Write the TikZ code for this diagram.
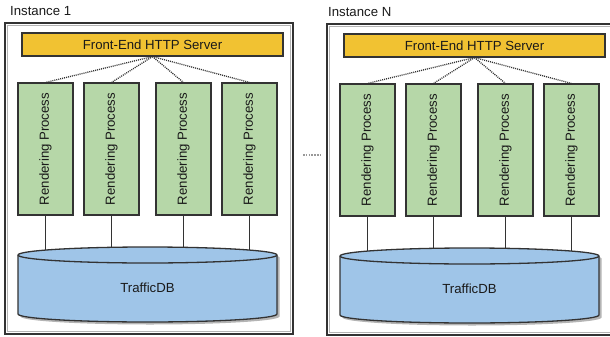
\documentclass[tikz,border=0pt]{standalone}
\usepackage{fontspec}
\setmainfont{Liberation Sans}
\definecolor{srvfill}{HTML}{F1C232}
\definecolor{rpfill}{HTML}{B6D7A8}
\definecolor{dbfill}{HTML}{9FC5E8}
\definecolor{edgecol}{HTML}{333333}
\definecolor{shadecol}{HTML}{B4B4B4}
\definecolor{txtcol}{HTML}{1A1A1A}
\begin{document}
\begin{tikzpicture}[x=1pt,y=-1pt,
  font=\fontsize{13.2}{15}\selectfont,
  every node/.style={text=txtcol, inner sep=0pt},
  outerbox/.style={draw=edgecol, line width=1.6pt, minimum width=288pt, minimum height=311pt},
  innerline/.style={draw=shadecol, line width=1.4pt},
  boxbase/.style={draw=edgecol, line width=1.1pt},
  server/.style={boxbase, fill=srvfill, minimum width=261pt, minimum height=23pt},
  render/.style={boxbase, fill=rpfill, minimum width=55pt, minimum height=132pt},
  fanout/.style={draw=edgecol, line width=1.3pt, dash pattern=on 1pt off 1pt},
  dblink/.style={draw=edgecol, line width=1.1pt},
  dbbody/.style={boxbase, fill=dbfill, line width=1.3pt},
  dbshadow/.style={fill=shadecol},
  gapdots/.style={draw=gray!80, line width=1.4pt, dash pattern=on 1.6pt off 1.2pt}
]
\useasboundingbox (0,0) rectangle (610,337);
\clip (0,0) rectangle (610,337);

\foreach \i/\dx/\dy/\lx/\ly/\title in {1/0/0/10/11/Instance 1, N/322/1/328/12/Instance N} {
  % instance heading
  \node[anchor=west] (title\i) at (\lx,\ly) {\title};
  \begin{scope}[shift={(\dx,\dy)}]
    % instance frame with its grey inner rim
    \node[outerbox] (inst\i) at (149,178.5) {};
    \draw[innerline] (7.4,25.4) rectangle (290.6,331.6);
    % front-end server and rendering processes
    \node[server] (srv\i) at (152.5,44.5) {Front-End HTTP Server};
    \foreach \k/\cx in {a/45.5, b/111.5, c/183.5, d/249.5} {
      \node[render] (rp\i\k) at (\cx,149) {\rotatebox{90}{Rendering Process}};
      \draw[fanout] (srv\i.south) -- (rp\i\k.north);
    }
    % database cylinder (y axis points down, so angle 90 is the lower side)
    \coordinate (dbtop\i) at (147.5,255);
    \foreach \k in {a,b,c,d} {
      \draw[dblink] (rp\i\k.south) -- (rp\i\k.south |- dbtop\i);
    }
    \fill[dbshadow] (20.5,257.5) -- (20.5,316.5) arc (180:0:129.5 and 8)
      -- (279.5,257.5) arc (360:180:129.5 and 8) -- cycle;
    \draw[dbbody] (18,255) -- (18,314) arc (180:0:129.5 and 8)
      -- (277,255) arc (360:180:129.5 and 8) -- cycle;
    \draw[boxbase, line width=1.3pt] (18,255) arc (180:0:129.5 and 8);
    \node (db\i) at (147.5,288) {TrafficDB};
  \end{scope}
}

% ellipsis between the two instances
\coordinate (gapL) at (303,155);
\coordinate (gapR) at (320,155);
\draw[gapdots] (gapL) -- (gapR);
\end{tikzpicture}
\end{document}
